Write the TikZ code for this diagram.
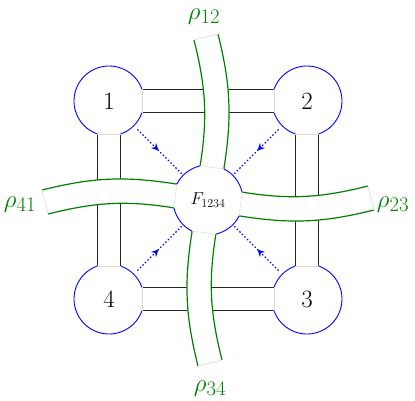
\documentclass[tikz,border=0pt]{standalone}
\usetikzlibrary{decorations.markings,arrows.meta}
\begin{document}
\begin{tikzpicture}[x=1pt,y=1pt,
  strip/.style={draw=black!85, line width=1.3pt},
  bnd/.style={draw=blue, line width=0.9pt},
  gline/.style={draw=green!50!black, line width=1.2pt},
  faint/.style={draw=black!15, line width=0.5pt},
  gfaint/.style={draw=green!50!black!20, line width=0.5pt},
  pole/.style={circle, minimum size=70pt, inner sep=0pt, font=\Huge},
  flow/.style={draw=blue, line width=1.2pt, dash pattern=on 1.4pt off 2.2pt,
    postaction={decorate},
    decoration={markings, mark=at position 0.5 with {\arrow{Stealth[length=7pt,width=7pt]}}}},
  lab/.style={text=green!50!black, font=\Huge, anchor=base, inner sep=0pt}]
\useasboundingbox (-208,-200) rectangle (207,200);

\node[pole] (c1) at (-99,99) {1};
\node[pole] (c2) at (99,99) {2};
\node[pole] (c3) at (99,-99) {3};
\node[pole] (c4) at (-99,-99) {4};
\node[circle, minimum size=70pt, inner sep=0pt, font=\LARGE] (F) at (0,0) {$F_{1234}$};

% black ribbon edges between the corner discs
\draw[strip] ([shift={(19.2:35)}]c1.center) -- ([shift={(160.8:35)}]c2.center);
\draw[strip] ([shift={(-19.2:35)}]c1.center) -- ([shift={(-160.8:35)}]c2.center);
\draw[strip] ([shift={(19.2:35)}]c4.center) -- ([shift={(160.8:35)}]c3.center);
\draw[strip] ([shift={(-19.2:35)}]c4.center) -- ([shift={(-160.8:35)}]c3.center);
\draw[strip] ([shift={(250.8:35)}]c1.center) -- ([shift={(109.2:35)}]c4.center);
\draw[strip] ([shift={(289.2:35)}]c1.center) -- ([shift={(70.8:35)}]c4.center);
\draw[strip] ([shift={(250.8:35)}]c2.center) -- ([shift={(109.2:35)}]c3.center);
\draw[strip] ([shift={(289.2:35)}]c2.center) -- ([shift={(70.8:35)}]c3.center);

% green arms
\foreach \r in {0,-90,180,90} {
\begin{scope}[rotate=\r]
  \fill[white] (153:35) .. controls (-83.1,24.1) and (-115,22.7) .. (-166,10)
     -- (-160,-14) .. controls (-112.3,-2.1) and (-82.7,-0.2) .. (193:35) -- cycle;
  \draw[gline] (153:35) .. controls (-83.1,24.1) and (-115,22.7) .. (-166,10);
  \draw[gline] (193:35) .. controls (-82.7,-0.2) and (-112.3,-2.1) .. (-160,-14);
  \draw[gfaint] (-166,10) -- (-160,-14);
  \draw[gfaint] (153:35) -- (193:35);
  \draw[bnd] (13:35) arc[start angle=13, end angle=63, radius=35];
\end{scope}
}

% corner disc boundaries
\foreach \c/\d in {c1/315, c2/225, c3/135, c4/45} {
  \draw[bnd] ([shift={(\d-25.8:35)}]\c.center) arc[start angle=\d-25.8, end angle=\d+25.8, radius=35];
  \draw[bnd] ([shift={(\d+64.2:35)}]\c.center) arc[start angle=\d+64.2, end angle=\d+295.8, radius=35];
  \draw[faint] ([shift={(\d+25.8:35)}]\c.center) -- ([shift={(\d+64.2:35)}]\c.center);
  \draw[faint] ([shift={(\d-25.8:35)}]\c.center) -- ([shift={(\d-64.2:35)}]\c.center);
}

% dotted flows
\foreach \c in {c1,c2,c3,c4} {
  \draw[flow, shorten <=5pt, shorten >=1pt] (\c) -- (F);
}

\node[lab] (r12) at (-4,181) {$\rho_{12}$};
\node[lab] (r34) at (2,-191) {$\rho_{34}$};
\node[lab] (r41) at (-188,-7) {$\rho_{41}$};
\node[lab] (r23) at (185,-7) {$\rho_{23}$};
\end{tikzpicture}
\end{document}
